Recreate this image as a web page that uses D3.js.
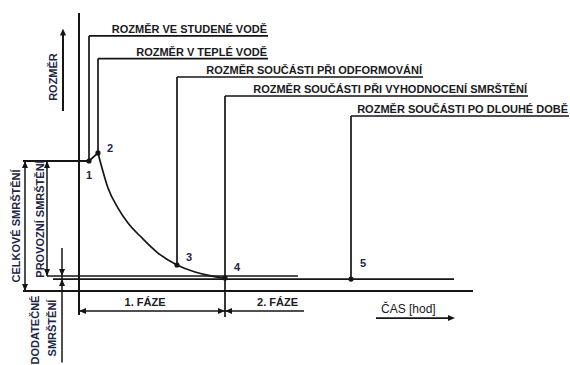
<!DOCTYPE html>
<html><head><meta charset="utf-8">
<script src="https://cdn.jsdelivr.net/npm/d3@7"></script>
<style>
html,body{margin:0;padding:0;background:#fff;}
svg{display:block;}
text{font-family:"Liberation Sans",Arial,sans-serif;}
</style></head>
<body>
<script>
// ---- data (time t in arbitrary hours, size s in arbitrary units) ----
const stateNames = ["1","2","3","4","5"];
const stateT = [1.0, 1.9, 9.8, 14.6, 27.2];
const stateS = [100, 106.2, 20.0, 10.0, 9.2];
const stateLabels = [
  "ROZMĚR VE STUDENÉ VODĚ",
  "ROZMĚR V TEPLÉ VODĚ",
  "ROZMĚR SOUČÁSTI PŘI ODFORMOVÁNÍ",
  "ROZMĚR SOUČÁSTI PŘI VYHODNOCENÍ SMRŠTĚNÍ",
  "ROZMĚR SOUČÁSTI PO DLOUHÉ DOBĚ"
];
const curveT = [1.9, 2.3, 2.9, 3.9, 4.9, 6.3, 7.9, 9.8, 11.6, 13.3, 14.6];
const curveS = [106.2, 94.6, 79.2, 63.8, 52.3, 40.8, 29.2, 20.0, 14.6, 11.5, 10.0];
const initialS = 100;     // size in cold water
const operatingS = 11.5;  // size after operational shrinkage
const longTermS = 9.2;    // size after long time
const phaseT = [0, 14.6, 22.5];
const phaseLabels = ["1. FÁZE", "2. FÁZE"];
const axisLabelX = "ČAS [hod]";
const axisLabelY = "ROZMĚR";
const dimLabels = ["CELKOVÉ SMRŠTĚNÍ", "PROVOZNÍ SMRŠTĚNÍ", "DODATEČNÉ", "SMRŠTĚNÍ"];

// ---- layout ----
const W = 570, H = 365;
const x = d3.scaleLinear().domain([0, 40]).range([79, 479]);
const y = d3.scaleLinear().domain([0, 100]).range([291, 161]);
const railS = [196.2, 178.8, 164.6, 150, 134.6];
const railEndT = [18.9, 18.9, 34.4, 44.9, 49.0];
const INK = "#151515", TXT = "#1a1a22", NUM = "#1d2647";

const svg = d3.select("body").append("svg").attr("width", W).attr("height", H);
const g = svg.append("g");

function line(x1, y1, x2, y2, w) {
  g.append("line").attr("x1", x1).attr("y1", y1).attr("x2", x2).attr("y2", y2)
    .attr("stroke", INK).attr("stroke-width", w || 1.7);
}
function head(px, py, dir) { // tip at (px,py)
  const L = 7, hw = 3;
  let pts;
  if (dir === "down") pts = [[px, py], [px - hw, py - L], [px + hw, py - L]];
  if (dir === "up") pts = [[px, py], [px - hw, py + L], [px + hw, py + L]];
  if (dir === "left") pts = [[px, py], [px + L, py - hw], [px + L, py + hw]];
  if (dir === "right") pts = [[px, py], [px - L, py - hw], [px - L, py + hw]];
  g.append("path").attr("d", "M" + pts.map(p => p.join(",")).join("L") + "Z").attr("fill", INK);
}

// main vertical axis
line(x(0), y(213.8), x(0), y(-18.5), 2);
// time axis
line(x(-5.6), y(0), x(39.4), y(0), 2);
// reference levels
line(x(-5.6), y(initialS), x(stateT[0]), y(initialS), 1.8);
line(x(-3.2), y(operatingS), x(21.9), y(operatingS), 1.5);
line(x(-2.6), y(longTermS), x(37.5), y(longTermS), 1.8);

// leader lines and labels
stateLabels.forEach((lab, i) => {
  const bottom = i === 3 ? y(-20) : y(stateS[i]);
  line(x(stateT[i]), bottom, x(stateT[i]), y(railS[i]), 1.7);
  line(x(stateT[i]), y(railS[i]), x(railEndT[i]), y(railS[i]), 1.7);
  g.append("text").attr("x", x(railEndT[i]) - 1).attr("y", y(railS[i]) - 3)
    .attr("text-anchor", "end").attr("font-size", 11).attr("font-weight", "bold")
    .attr("fill", TXT).text(lab);
});

// size curve: plateau -> 1 -> 2 -> decay
const rise = d3.line().x(d => x(d[0])).y(d => y(d[1]));
g.append("path").attr("d", rise([[stateT[0], stateS[0]], [stateT[1], stateS[1]]]))
  .attr("fill", "none").attr("stroke", INK).attr("stroke-width", 1.7);
const decay = d3.line().x(d => x(d[0])).y(d => y(d[1])).curve(d3.curveMonotoneX);
g.append("path").attr("d", decay(curveT.map((t, i) => [t, curveS[i]])))
  .attr("fill", "none").attr("stroke", INK).attr("stroke-width", 1.7);

// state points and numbers
const numOff = [[-3, 18], [9, -1], [9, -4], [9, -7], [9, -12]];
stateNames.forEach((n, i) => {
  g.append("circle").attr("cx", x(stateT[i])).attr("cy", y(stateS[i])).attr("r", 2.6).attr("fill", INK);
  g.append("text").attr("x", x(stateT[i]) + numOff[i][0]).attr("y", y(stateS[i]) + numOff[i][1])
    .attr("font-size", 11).attr("font-weight", "bold").attr("fill", NUM).text(n);
});

// ROZMĚR arrow
line(x(-1.6), y(138.5), x(-1.6), y(199.5), 2);
head(x(-1.6), y(202), "up");
g.append("text").attr("transform", `translate(${x(-2.2)},${y(164.6)}) rotate(-90)`)
  .attr("text-anchor", "middle").attr("font-size", 11).attr("font-weight", "bold")
  .attr("fill", NUM).text(axisLabelY);

// shrinkage dimension arrows
line(x(-5.4), y(initialS), x(-5.4), y(0), 1.5);
head(x(-5.4), y(initialS), "up"); head(x(-5.4), y(0), "down");
line(x(-3.2), y(initialS), x(-3.2), y(operatingS), 1.5);
head(x(-3.2), y(initialS), "up"); head(x(-3.2), y(operatingS), "down");
line(x(-1.7), y(33), x(-1.7), y(-55), 1.5);
head(x(-1.7), y(operatingS), "down"); head(x(-1.7), y(longTermS), "up");

function vtext(px, py, s) {
  g.append("text").attr("transform", `translate(${px},${py}) rotate(-90)`)
    .attr("text-anchor", "middle").attr("font-size", 11).attr("font-weight", "bold")
    .attr("fill", NUM).text(s);
}
vtext(20, 226, dimLabels[0]);
vtext(44, 219, dimLabels[1]);
vtext(39, 330, dimLabels[2]);
vtext(56, 328, dimLabels[3]);

// phases
const py = y(-15.4);
line(x(phaseT[0]), py, x(phaseT[2]), py, 1.7);
head(x(phaseT[0]), py, "left");
head(x(phaseT[1]), py, "right");
head(x(phaseT[1]), py, "left");
phaseLabels.forEach((lab, i) => {
  const cx = i === 0 ? (x(phaseT[0]) + x(phaseT[1])) / 2 - 7 : (x(phaseT[1]) + x(phaseT[2])) / 2 + 13;
  g.append("text").attr("x", cx).attr("y", py - 5).attr("text-anchor", "middle")
    .attr("font-size", 11).attr("font-weight", "bold").attr("fill", TXT).text(lab);
});

// time axis label
line(x(29.7), y(-20.8), x(37.0), y(-20.8), 1.7);
head(x(37.6), y(-20.8), "right");
g.append("text").attr("x", x(30.2)).attr("y", y(-17)).attr("font-size", 12)
  .attr("fill", TXT).text(axisLabelX);
</script>
</body></html>
